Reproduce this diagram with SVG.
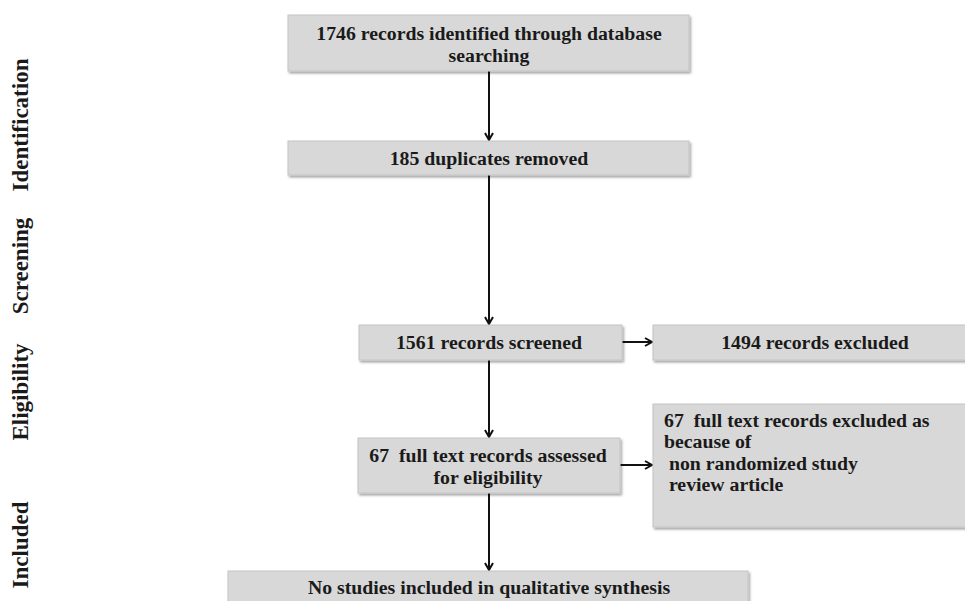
<svg xmlns="http://www.w3.org/2000/svg" width="965" height="601" viewBox="0 0 965 601">
<style>
.box{fill:#d8d8d8;stroke:#c4c4c4;stroke-width:1;filter:url(#sh)}
.t{font-family:"Liberation Serif","DejaVu Serif",serif;font-weight:bold;font-size:19.8px;fill:#1a1a1a}
.c{text-anchor:middle}
.lab{font-family:"Liberation Serif","DejaVu Serif",serif;font-weight:bold;font-size:23px;fill:#1a1a1a;text-anchor:middle}
.ln{stroke:#111;stroke-width:2;fill:none;marker-end:url(#ah)}
</style>
<defs>
<filter id="sh" x="-5%" y="-20%" width="110%" height="140%">
<feDropShadow dx="1.5" dy="2" stdDeviation="1.2" flood-color="#000" flood-opacity="0.35"/>
</filter>
<marker id="ah" markerWidth="10" markerHeight="10" refX="8" refY="5" orient="auto" markerUnits="userSpaceOnUse">
<path d="M1,1 L8,5 L1,9" fill="none" stroke="#111" stroke-width="2"/>
</marker>
</defs>
<rect width="965" height="601" fill="#fff"/>
<g id="side-labels">
<text class="lab" transform="translate(28,125) rotate(-90)">Identification</text>
<text class="lab" transform="translate(28,266) rotate(-90)">Screening</text>
<text class="lab" transform="translate(28,392) rotate(-90)">Eligibility</text>
<text class="lab" transform="translate(28,545) rotate(-90)">Included</text>
</g>
<g id="connectors">
<line class="ln" x1="489" y1="71" x2="489" y2="140"/>
<line class="ln" x1="489" y1="175" x2="489" y2="324"/>
<line class="ln" x1="622" y1="342" x2="652" y2="342"/>
<line class="ln" x1="489" y1="360" x2="489" y2="437"/>
<line class="ln" x1="620" y1="465" x2="652" y2="465"/>
<line class="ln" x1="489" y1="493" x2="489" y2="570"/>
</g>
<g id="n1">
<rect class="box" x="288" y="15" width="401" height="56"/>
<text class="t c" x="489" y="40">1746 records identified through database</text>
<text class="t c" x="489" y="62">searching</text>
</g>
<g id="n2">
<rect class="box" x="288" y="141" width="401" height="34"/>
<text class="t c" x="489" y="165">185 duplicates removed</text>
</g>
<g id="n3">
<rect class="box" x="359" y="325" width="263" height="35"/>
<text class="t c" x="489" y="349">1561 records screened</text>
</g>
<g id="n4">
<rect class="box" x="653" y="325" width="320" height="35"/>
<text class="t c" x="815" y="349">1494 records excluded</text>
</g>
<g id="n5">
<rect class="box" x="358" y="438" width="262" height="55"/>
<text class="t c" x="488" y="462" xml:space="preserve">67  full text records assessed</text>
<text class="t c" x="488" y="484">for eligibility</text>
</g>
<g id="n6">
<rect class="box" x="653" y="404" width="320" height="123"/>
<text class="t" x="664" y="427" xml:space="preserve">67  full text records excluded as</text>
<text class="t" x="664" y="448">because of</text>
<text class="t" x="664" y="470" xml:space="preserve"> non randomized study</text>
<text class="t" x="664" y="491" xml:space="preserve"> review article</text>
</g>
<g id="n7">
<rect class="box" x="228" y="571" width="520" height="40"/>
<text class="t c" x="489" y="594">No studies included in qualitative synthesis</text>
</g>
</svg>
